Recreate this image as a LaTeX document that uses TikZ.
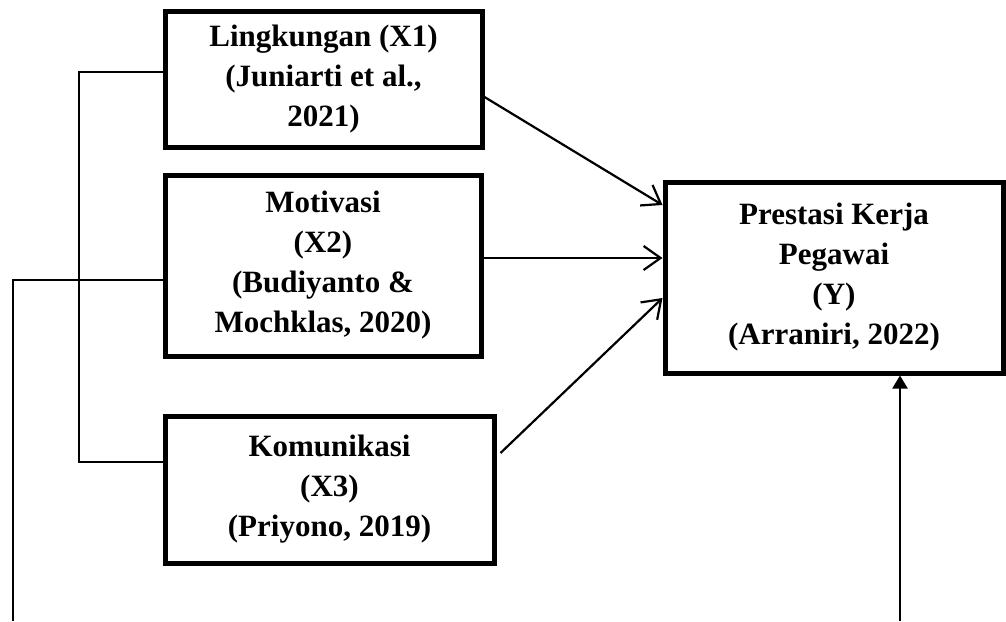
\documentclass[tikz,border=0pt]{standalone}
\usepackage{fontspec}
\setmainfont{Liberation Serif}
\usetikzlibrary{arrows.meta}
\begin{document}
\begin{tikzpicture}[x=1pt,y=-1pt,
  box/.style={draw, line width=5pt, rectangle, align=center, inner sep=0pt,
    font=\fontsize{31}{40}\selectfont\bfseries},
  conn/.style={line width=2pt},
  arr/.style={line width=2.2pt, -{Straight Barb[length=17pt,width=24pt]}},
  uparr/.style={line width=2.2pt, -{Triangle[length=13pt,width=15pt]}}]
\useasboundingbox (0,0) rectangle (1006,621);
\node[box, minimum width=317pt, minimum height=136pt] (x1) at (323.5,79) {Lingkungan (X1)\\(Juniarti et al.,\\2021)};
\node[box, minimum width=316pt, minimum height=181pt] (x2) at (323,265.5) {Motivasi\\(X2)\\(Budiyanto \&\\Mochklas, 2020)};
\node[box, minimum width=329pt, minimum height=147pt] (x3) at (329.5,489.5) {Komunikasi\\(X3)\\(Priyono, 2019)};
\node[box, minimum width=338pt, minimum height=191pt] (y) at (834,277.5) {Prestasi Kerja\\Pegawai\\(Y)\\(Arraniri, 2022)};
\coordinate (lb) at (13,621);
\coordinate (bot) at (900,621);
\draw[arr] ([yshift=-18pt]x1.east) -- ([yshift=72.5pt]y.west);
\draw[arr] ([yshift=7.5pt]x2.east) -- ([yshift=19.5pt]y.west);
\draw[arr] ([xshift=4pt,yshift=36.5pt]x3.east) -- ([yshift=-20.5pt]y.west);
\draw[uparr] (bot) -- (bot |- y.south);
\draw[conn] ([yshift=7pt]x1.west) -- ++(-84pt,0) |- ([yshift=27.5pt]x3.west);
\draw[conn] ([yshift=-14.5pt]x2.west) -| (lb);
\end{tikzpicture}
\end{document}
